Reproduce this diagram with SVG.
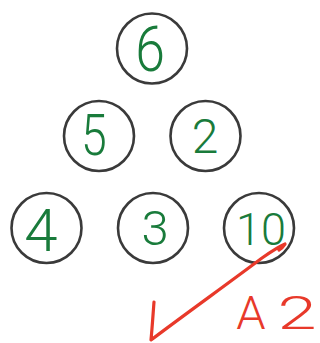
<svg xmlns="http://www.w3.org/2000/svg" width="320" height="343" viewBox="0 0 320 343">
<style>
.c{fill:#fff;stroke:#3a3a3a;stroke-width:2.6}
.d{fill:#197b3b;font-family:Roboto,"Liberation Sans",sans-serif;font-weight:300;text-anchor:middle}
.r{fill:#e8392a;font-family:Roboto,"Liberation Sans",sans-serif;font-weight:300;text-anchor:middle}
</style>
<rect width="320" height="343" fill="#fff"/>
<g id="node-6"><circle class="c" cx="152" cy="48.5" r="35"/><text class="d" x="150" y="71" font-size="63" transform="translate(150 0) scale(0.85 1) translate(-150 0)">6</text></g>
<g id="node-5"><circle class="c" cx="99" cy="136" r="35"/><text class="d" x="94" y="155" font-size="58" transform="translate(94 0) scale(0.8 1) translate(-94 0)">5</text></g>
<g id="node-2"><circle class="c" cx="205.5" cy="136" r="35"/><text class="d" x="205" y="153" font-size="48">2</text></g>
<g id="node-4"><circle class="c" cx="46.5" cy="228" r="35"/><text class="d" x="41" y="251" font-size="60">4</text></g>
<g id="node-3"><circle class="c" cx="153" cy="228" r="35"/><text class="d" x="155" y="245" font-size="49">3</text></g>
<g id="node-10"><circle class="c" cx="259" cy="228" r="35"/><text class="d" x="261" y="245" font-size="45">10</text></g>
<g id="connectors"></g>
<path d="M154,302 C153,315 152,330 151,340 C180,318 230,282 262,258 C272,251 280,246 285,244 C283,247 281,249 279,250" fill="none" stroke="#e8392a" stroke-width="3.2" stroke-linecap="round" stroke-linejoin="round"/>
<g id="label-A2">
<text class="r" x="251" y="329" font-size="47">A</text>
<text class="r" x="297" y="329" font-size="47" transform="translate(297 0) scale(1.5 1) translate(-297 0)">2</text>
</g>
</svg>
